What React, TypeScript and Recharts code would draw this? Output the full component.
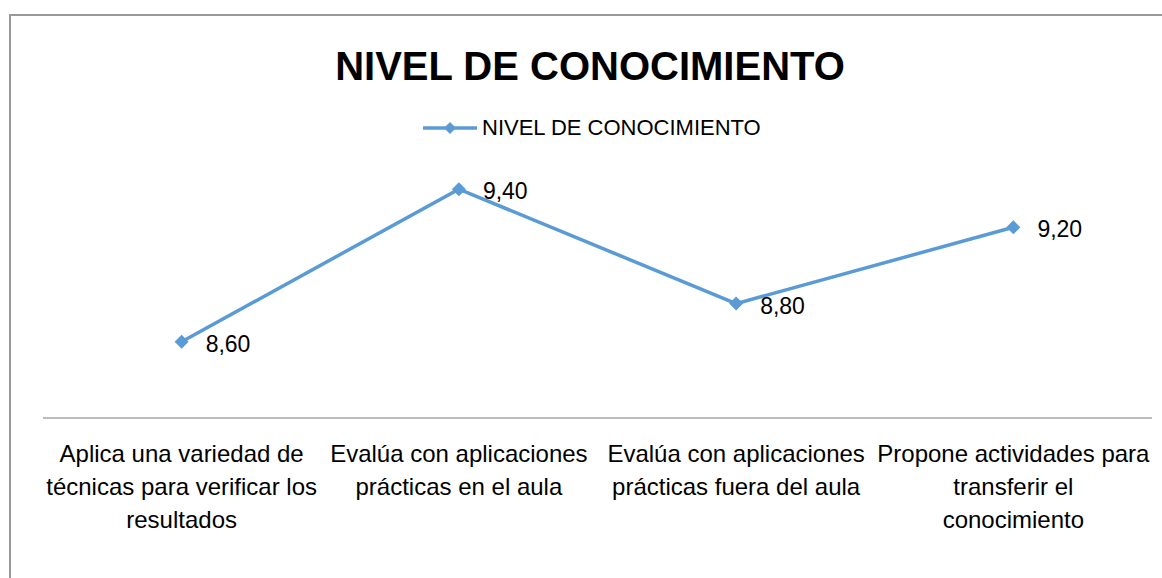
import React from 'react';
import { LineChart, Line, XAxis, YAxis, Legend, LabelList } from 'recharts';

const categories = [
  'Aplica una variedad de\ntécnicas para verificar los\nresultados',
  'Evalúa con aplicaciones\nprácticas en el aula',
  'Evalúa con aplicaciones\nprácticas fuera del aula',
  'Propone actividades para\ntransferir el\nconocimiento',
];
const nivel = [8.6, 9.4, 8.8, 9.2];
const seriesName = 'NIVEL DE CONOCIMIENTO';
const chartTitle = 'NIVEL DE CONOCIMIENTO';

const data = categories.map((name, i) => ({ name, nivel: nivel[i] }));

const BLUE = '#5B9BD5';
const FONT = '"Liberation Sans", Arial, sans-serif';

const Diamond = (props: any) => {
  const { cx, cy } = props;
  if (cx == null || cy == null) return null;
  const r = 7;
  return <path d={`M${cx},${cy - r}L${cx + r},${cy}L${cx},${cy + r}L${cx - r},${cy}Z`} fill={BLUE} />;
};

const CategoryTick = (props: any) => {
  const { x, y, payload } = props;
  const lines = String(payload.value).split('\n');
  return (
    <text x={x} y={y + 44} textAnchor="middle" fill="#000" fontSize={24} fontFamily={FONT}>
      {lines.map((l, i) => (
        <tspan key={i} x={x} dy={i === 0 ? 0 : 33}>
          {l}
        </tspan>
      ))}
    </text>
  );
};

const ValueLabel = (props: any) => {
  const { x, y, value } = props;
  return (
    <text x={x + 24} y={y + 10} fill="#000" fontSize={23} fontFamily={FONT}>
      {Number(value).toFixed(2).replace('.', ',')}
    </text>
  );
};

const LegendContent = () => (
  <div style={{ display: 'flex', alignItems: 'center', height: 26, fontFamily: FONT, fontSize: 22, lineHeight: '26px', color: '#000' }}>
    <svg width={54} height={26} style={{ display: 'block' }}>
      <line x1={0} y1={13} x2={54} y2={13} stroke={BLUE} strokeWidth={3.5} />
      <path d="M27,7L33,13L27,19L21,13Z" fill={BLUE} />
    </svg>
    <span style={{ marginLeft: 5, whiteSpace: 'nowrap' }}>{seriesName}</span>
  </div>
);

const App: React.FC = () => {
  return (
    <div style={{ position: 'absolute', left: 0, top: 0, width: 1162, height: 578, overflow: 'hidden', background: '#fff' }}>
      <div style={{ position: 'absolute', left: 9, top: 14, width: 1166, height: 600, border: '2px solid #999', boxSizing: 'border-box' }} />
      <div
        style={{
          position: 'absolute',
          left: 0,
          top: 46,
          width: 1180,
          textAlign: 'center',
          fontFamily: FONT,
          fontWeight: 'bold',
          fontSize: 40,
          lineHeight: '40px',
          color: '#000',
        }}
      >
        {chartTitle}
      </div>
      <div style={{ position: 'absolute', left: 0, top: 0 }}>
        <LineChart width={1162} height={578} data={data} margin={{ top: 151, right: 10, left: 43, bottom: 40 }}>
          <XAxis
            dataKey="name"
            scale="band"
            height={120}
            interval={0}
            tickLine={false}
            tickSize={0}
            tickMargin={0}
            axisLine={{ stroke: '#a6a6a6', strokeWidth: 1.5 }}
            tick={<CategoryTick />}
          />
          <YAxis hide domain={[8.2, 9.6]} />
          <Legend
            verticalAlign="middle"
            layout="horizontal"
            content={<LegendContent />}
            wrapperStyle={{ top: 115, left: 423, width: 'auto', height: 26 }}
          />
          <Line
            type="linear"
            dataKey="nivel"
            name={seriesName}
            stroke={BLUE}
            strokeWidth={3.5}
            dot={<Diamond />}
            activeDot={false}
            isAnimationActive={false}
          >
            <LabelList dataKey="nivel" content={<ValueLabel />} />
          </Line>
        </LineChart>
      </div>
    </div>
  );
};

export default App;
